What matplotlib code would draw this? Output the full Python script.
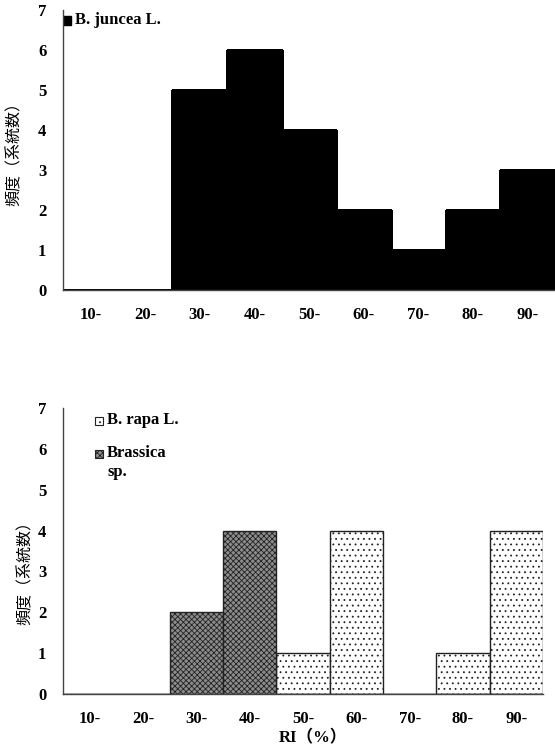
import matplotlib
matplotlib.use("Agg")
import matplotlib.pyplot as plt
from matplotlib.patches import Rectangle
import numpy as np

plt.rcParams['hatch.linewidth'] = 0.6

categories = ["10-", "20-", "30-", "40-", "50-", "60-", "70-", "80-", "90-"]
juncea = [0, 0, 5, 6, 4, 2, 1, 2, 3]
rapa = [0, 0, 0, 0, 1, 4, 0, 1, 4]
brassica_sp = [0, 0, 2, 4, 0, 0, 0, 0, 0]
yticks = [0, 1, 2, 3, 4, 5, 6, 7]
ylabel = "頻度（系統数）"
xlabel = "RI（%）"

W, H = 555, 752
fig = plt.figure(figsize=(W / 100, H / 100), dpi=100)

serif = {'family': ['Liberation Serif', 'Noto Sans CJK JP'], 'weight': 'bold', 'size': 12}
cjk = {'family': ['Noto Sans CJK JP', 'DejaVu Sans'], 'size': 11.5}


def px_axes(l, t, r, b):
    return fig.add_axes([l / W, 1 - b / H, (r - l) / W, (b - t) / H])


def style(ax):
    x = np.arange(len(categories))
    ax.set_xlim(-0.5, len(categories) - 0.5)
    ax.set_ylim(0, 7)
    ax.set_xticks(x)
    ax.set_xticklabels(categories, fontdict=serif)
    ax.set_yticks(yticks)
    ax.set_yticklabels([str(v) for v in yticks], fontdict=serif)
    ax.tick_params(length=0, pad=12)
    ax.tick_params(axis='y', pad=12)
    for s in ['top', 'right']:
        ax.spines[s].set_visible(False)
    for s in ['left', 'bottom']:
        ax.spines[s].set_color('#444444')
        ax.spines[s].set_linewidth(1.0)


# Top panel
ax1 = px_axes(63, 10, 555, 290)
x = np.arange(len(categories))
ax1.bar(x, juncea, width=1.0, color='black', edgecolor='black', linewidth=0.8, antialiased=False)
style(ax1)
fig.text(14 / W, 1 - 150 / H, ylabel, fontdict=cjk, rotation=90, va='center', ha='center')
ax1.add_patch(Rectangle((63, 752 - 25), 8, 9, transform=None, color='black'))
fig.text(75 / W, 1 - 20 / H, "B. juncea L.", fontdict=serif, va='center', ha='left')

# Bottom panel
ax2 = px_axes(63, 408, 543, 694)
ax2.bar(x, rapa, width=1.0, facecolor='white', edgecolor='#222222', linewidth=1.0, hatch='...')
ax2.bar(x, brassica_sp, width=1.0, facecolor='#8c8c8c', edgecolor='#222222', linewidth=1.0, hatch='xxxxxx')
style(ax2)
fig.text(25 / W, 1 - 569 / H, ylabel, fontdict=cjk, rotation=90, va='center', ha='center')
fig.text(313 / W, 1 - 738 / H, xlabel, fontdict=serif, va='center', ha='center')

fig.patches.append(Rectangle((95 / W, 1 - 425 / H), 8 / W, 8 / H, transform=fig.transFigure,
                             facecolor='white', edgecolor='#222222', linewidth=0.8, hatch='...'))
fig.text(107 / W, 1 - 420 / H, "B. rapa L.", fontdict=serif, va='center', ha='left')
fig.patches.append(Rectangle((95 / W, 1 - 458 / H), 8 / W, 8 / H, transform=fig.transFigure,
                             facecolor='#8c8c8c', edgecolor='#222222', linewidth=0.8, hatch='xxxxxx'))
fig.text(107 / W, 1 - 453 / H, "Brassica", fontdict=serif, va='center', ha='left')
fig.text(107 / W, 1 - 472 / H, "sp.", fontdict=serif, va='center', ha='left')

fig.savefig("out.png", dpi=100)
